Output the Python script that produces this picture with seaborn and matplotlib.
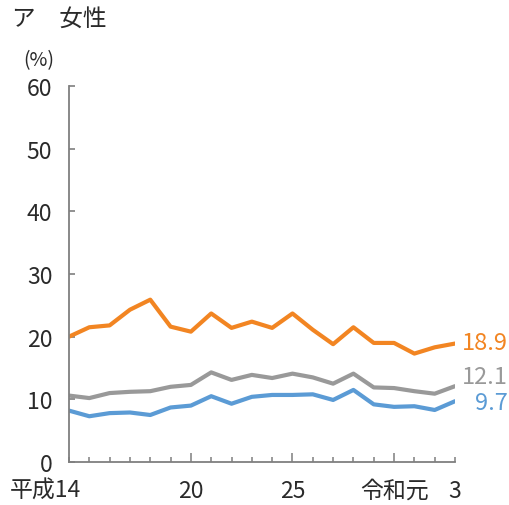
import matplotlib
matplotlib.use("Agg")
import matplotlib.pyplot as plt
import seaborn as sns
import pandas as pd
import numpy as np

years = list(range(20))  # 平成14 ... 令和3
series_a = [20.0, 21.5, 21.8, 24.3, 25.9, 21.6, 20.8, 23.7, 21.4, 22.4,
            21.4, 23.7, 21.1, 18.8, 21.5, 19.0, 19.0, 17.3, 18.3, 18.9]
series_b = [10.6, 10.2, 11.0, 11.2, 11.3, 12.0, 12.3, 14.3, 13.1, 13.9,
            13.4, 14.1, 13.5, 12.5, 14.1, 11.9, 11.8, 11.3, 10.9, 12.1]
series_c = [8.2, 7.3, 7.8, 7.9, 7.5, 8.7, 9.0, 10.5, 9.3, 10.4,
            10.7, 10.7, 10.8, 9.9, 11.5, 9.2, 8.8, 8.9, 8.3, 9.7]
series_names = ["a", "b", "c"]
colors = {"a": "#F28522", "b": "#999999", "c": "#5B9BD5"}
end_labels = ["18.9", "12.1", "9.7"]
x_tick_pos = [0, 6, 11, 17, 19]
x_tick_labels = ["平成14", "20", "25", "令和元", "3"]
y_ticks = [0, 10, 20, 30, 40, 50, 60]

sns.set_theme(style="white")
plt.rcParams["font.family"] = ["Noto Sans CJK JP", "DejaVu Sans"]

df = pd.DataFrame({
    "year": years * 3,
    "value": series_a + series_b + series_c,
    "series": ["a"] * 20 + ["b"] * 20 + ["c"] * 20,
})

fig = plt.figure(figsize=(5.1, 5.06), dpi=100)
ax = fig.add_axes([69 / 510, 1 - 463 / 506, (455 - 69) / 510, (463 - 87) / 506])
sns.lineplot(data=df, x="year", y="value", hue="series", palette=colors,
             linewidth=3, ax=ax, legend=False)

ax.set_xlim(0, 19)
ax.set_ylim(0, 60)
ax.set_xlabel("")
ax.set_ylabel("")
for s in ["top", "right"]:
    ax.spines[s].set_visible(False)
for s in ["left", "bottom"]:
    ax.spines[s].set_color("#7f7f7f")
    ax.spines[s].set_linewidth(1.3)

txt = "#2a2a2a"
ax.set_yticks(y_ticks)
ax.set_yticklabels([str(v) for v in y_ticks], fontsize=16.5, color=txt)
ax.tick_params(axis="y", direction="in", length=4.5, width=1.2, color="#7f7f7f", pad=12, left=True)

ax.set_xticks([6, 11, 16])
ax.set_xticklabels([])
ax.set_xticks(years, minor=True)
ax.tick_params(axis="x", which="major", direction="in", length=6.5, width=1.1, color="#7f7f7f", bottom=True)
ax.tick_params(axis="x", which="minor", direction="in", length=3.6, width=1.1, color="#7f7f7f", bottom=True)

offsets = {0: (12, "right"), 6: (0, "center"), 11: (0, "center"), 17: (-20, "center"), 19: (0, "center")}
for pos, lab in zip(x_tick_pos, x_tick_labels):
    dx, ha = offsets[pos]
    ax.annotate(lab, xy=(pos, 0), xycoords=("data", "axes fraction"),
                xytext=(dx, -28), textcoords="offset pixels",
                ha=ha, va="center", fontsize=16.5, color=txt, annotation_clip=False)

fig.text(12 / 510, 1 - 19 / 506, "ア　女性", ha="left", va="center", fontsize=17, color=txt)
fig.text(23 / 510, 1 - 61 / 506, "(%)", ha="left", va="center", fontsize=14, color=txt)

label_y = [344, 378, 404]
for name, lab, yy in zip(series_names, end_labels, label_y):
    fig.text(508 / 510, 1 - yy / 506, lab, ha="right", va="center",
             fontsize=17, color=colors[name])

fig.savefig("out.png", dpi=100)
